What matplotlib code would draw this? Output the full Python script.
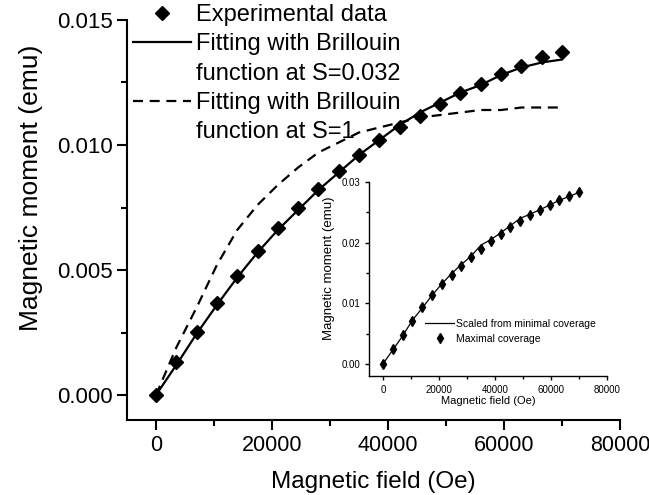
import matplotlib
matplotlib.use("Agg")
import matplotlib.pyplot as plt
from matplotlib.lines import Line2D
from matplotlib.ticker import MultipleLocator, FormatStrFormatter
import numpy as np

# ---------------- data ----------------
field = [0, 3500, 7000, 10500, 14000, 17500, 21000, 24500, 28000, 31500, 35000,
         38500, 42000, 45500, 49000, 52500, 56000, 59500, 63000, 66500, 70000]

exp_moment = [0.0, 0.00131, 0.00252, 0.00368, 0.00476, 0.00577, 0.00667, 0.00747,
              0.00823, 0.00895, 0.0096, 0.0102, 0.01073, 0.01116, 0.01164, 0.01207,
              0.01244, 0.01283, 0.01316, 0.01353, 0.0137]

fit_s0032 = [0.0, 0.0012, 0.00245, 0.0036, 0.0047, 0.0057, 0.0066, 0.0074, 0.0082,
             0.0089, 0.0096, 0.0102, 0.0108, 0.0113, 0.0117, 0.0121, 0.0124, 0.0128,
             0.0131, 0.0133, 0.01342]

fit_s1 = [0.0, 0.0019, 0.0035, 0.0052, 0.0066, 0.0076, 0.0084, 0.0091, 0.0097,
          0.0101, 0.0105, 0.0107, 0.0109, 0.0111, 0.0112, 0.0113, 0.0114, 0.0114,
          0.0115, 0.0115, 0.0115]

inset_max_cov = [0.0, 0.0024, 0.0048, 0.0071, 0.0093, 0.0113, 0.0131, 0.0147, 0.0162,
                 0.0176, 0.0190, 0.0203, 0.0214, 0.0225, 0.0235, 0.0245, 0.0254,
                 0.0262, 0.0270, 0.0277, 0.0283]

inset_scaled_min = [0.0, 0.0023, 0.0046, 0.0072, 0.0092, 0.0113, 0.0132, 0.0149,
                    0.0164, 0.0178, 0.0196, 0.0205, 0.0216, 0.0228, 0.0240, 0.0247,
                    0.0254, 0.0262, 0.0270, 0.0276, 0.0283]

main_xticks = [0, 20000, 40000, 60000, 80000]
main_yticks = [0.000, 0.005, 0.010, 0.015]
inset_yticks = [0.00, 0.01, 0.02, 0.03]

legend_labels = ["Experimental data", "Fitting with Brillouin", "function at S=0.032",
                 "Fitting with Brillouin", "function at S=1"]
inset_labels = ["Scaled from minimal coverage", "Maximal coverage"]

# ---------------- figure ----------------
plt.rcParams['font.family'] = ['Liberation Sans', 'DejaVu Sans']

fig = plt.figure(figsize=(6.49, 4.95), dpi=100)
ax = fig.add_axes([0.1957, 0.1515, 0.9553 - 0.1957, 0.9596 - 0.1515])

ax.plot(field, fit_s1, color='black', lw=1.6, ls=(0, (4.5, 3)))
ax.plot(field, fit_s0032, color='black', lw=1.6, ls='-')
ax.plot(field, exp_moment, ls='none', marker='D', ms=7.5, color='black')

ax.set_xlim(-5000, 80000)
ax.set_ylim(-0.001, 0.015)
ax.set_xticks(main_xticks)
ax.set_yticks(main_yticks)
ax.xaxis.set_minor_locator(MultipleLocator(10000))
ax.yaxis.set_minor_locator(MultipleLocator(0.0025))
ax.yaxis.set_major_formatter(FormatStrFormatter('%.3f'))
for s in ['top', 'right']:
    ax.spines[s].set_visible(False)
for s in ['left', 'bottom']:
    ax.spines[s].set_linewidth(1.5)
ax.tick_params(which='major', direction='out', length=7, width=1.5, labelsize=16)
ax.tick_params(axis='x', which='major', labelsize=15.5)
ax.tick_params(which='minor', direction='out', length=4, width=1.5)
ax.set_xlabel("Magnetic field (Oe)", fontsize=17.5, labelpad=11)
ax.set_ylabel("Magnetic moment (emu)", fontsize=19)
ax.yaxis.set_label_coords(-0.17, 0.58)

handles = [Line2D([], [], ls='none', marker='D', ms=7.5, color='black'),
           Line2D([], [], color='black', lw=1.6),
           Line2D([], [], ls='none'),
           Line2D([], [], color='black', lw=1.6, ls=(0, (4.5, 3))),
           Line2D([], [], ls='none')]
ax.legend(handles, legend_labels, loc='upper left',
          bbox_to_anchor=(133 / 649, 1 - 4 / 495), bbox_transform=fig.transFigure,
          frameon=False, borderpad=0, borderaxespad=0, handlelength=2.45,
          handletextpad=0.2, labelspacing=0.31, fontsize=17)

# ---------------- inset ----------------
iax = fig.add_axes([369 / 649, 1 - 376 / 495, (607 - 369) / 649, (376 - 182) / 495])
iax.plot(field, inset_scaled_min, color='black', lw=0.9)
iax.plot(field, inset_max_cov, ls='none', marker='d', ms=5.5, color='black')
iax.set_xlim(-5000, 80000)
iax.set_ylim(-0.002, 0.03)
iax.set_xticks(main_xticks)
iax.set_yticks(inset_yticks)
iax.xaxis.set_minor_locator(MultipleLocator(10000))
iax.yaxis.set_minor_locator(MultipleLocator(0.005))
iax.yaxis.set_major_formatter(FormatStrFormatter('%.2f'))
for s in ['top', 'right']:
    iax.spines[s].set_visible(False)
for s in ['left', 'bottom']:
    iax.spines[s].set_linewidth(1.0)
iax.tick_params(which='major', direction='out', length=3, width=1.0, labelsize=7)
iax.tick_params(which='minor', direction='out', length=2, width=1.0)
iax.set_xlabel("Magnetic field (Oe)", fontsize=8, labelpad=1)
iax.set_ylabel("Magnetic moment (emu)", fontsize=9.5)
iax.yaxis.set_label_coords(-0.143, 0.557)
iax.patch.set_alpha(0)

ihandles = [Line2D([], [], color='black', lw=0.9),
            Line2D([], [], ls='none', marker='d', ms=5.5, color='black')]
iax.legend(ihandles, inset_labels, loc='upper left',
           bbox_to_anchor=(425 / 649, 1 - 319 / 495), bbox_transform=fig.transFigure,
           frameon=False, borderpad=0, borderaxespad=0, handlelength=2.8,
           handletextpad=0.15, labelspacing=0.45, fontsize=7.5)

fig.savefig("out.png", dpi=100)
